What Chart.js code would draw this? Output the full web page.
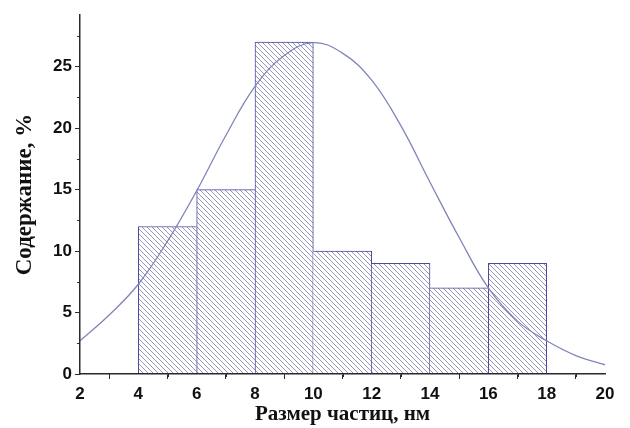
<!DOCTYPE html>
<html>
<head>
<meta charset="utf-8">
<script src="https://cdn.jsdelivr.net/npm/chart.js@4/dist/chart.umd.min.js"></script>
<style>
  html, body { margin: 0; padding: 0; background: #ffffff; }
  #wrap { width: 630px; height: 428px; position: relative; }
</style>
</head>
<body>
<div id="wrap"><canvas id="chart"></canvas></div>
<script>
// Histogram bins: centre of each 2 nm bin and its share, %
const binCentres = [5, 7, 9, 11, 13, 15, 17];
const binShares = [12, 15, 27, 10, 9, 7, 9];

// Fitted distribution curve, sampled at whole nanometres
const curveX = [2, 3, 4, 5, 6, 7, 8, 9, 10, 11, 12, 13, 14, 15, 16, 17, 18, 19, 20];
const curveY = [2.7, 4.8, 7.3, 10.8, 14.9, 19.4, 23.4, 25.9, 26.95, 26.1, 23.9, 20.2, 15.6, 11.1, 7.0, 4.3, 2.7, 1.5, 0.75];

// Axis ranges and minor tick positions
const xRange = [2, 20];
const yRange = [0, 29.2];
const xMinorTicks = [3, 5, 7, 9, 11, 13, 15, 17, 19];
const yMinorTicks = [2.5, 7.5, 12.5, 17.5, 22.5, 27.5];

const AXIS = '#2a2a2a';
const BAR_EDGE = '#4a4aa0';
const HATCH = '#9696bb';
const CURVE = '#8085bb';

// Diagonal "\\" hatching tile
function hatchPattern() {
  const s = 5;
  const c = document.createElement('canvas');
  c.width = s; c.height = s;
  const g = c.getContext('2d');
  g.fillStyle = '#ffffff';
  g.fillRect(0, 0, s, s);
  g.strokeStyle = HATCH;
  g.lineWidth = 1;
  g.beginPath();
  g.moveTo(-1, -1); g.lineTo(s + 1, s + 1);
  g.moveTo(-1, s - 1); g.lineTo(1, s + 1);
  g.moveTo(s - 1, -1); g.lineTo(s + 1, 1);
  g.stroke();
  return g.createPattern(c, 'repeat');
}

// Each shared edge is drawn once, by the taller neighbour
function edgeWidths(ctx) {
  const i = ctx.dataIndex;
  const v = binShares[i];
  const prev = i > 0 ? binShares[i - 1] : -1;
  const next = i < binShares.length - 1 ? binShares[i + 1] : -1;
  return {
    top: 1,
    bottom: 0,
    left: (prev <= v) ? 1 : 0,
    right: (next < v) ? 1 : 0
  };
}

const minorTicks = {
  id: 'minorTicks',
  afterDraw(chart) {
    const g = chart.ctx;
    const xs = chart.scales.x, ys = chart.scales.y;
    g.save();
    g.strokeStyle = AXIS;
    g.lineWidth = 1;
    g.beginPath();
    xMinorTicks.forEach(v => {
      const px = Math.round(xs.getPixelForValue(v)) + 0.5;
      g.moveTo(px, ys.bottom);
      g.lineTo(px, ys.bottom + 3);
    });
    yMinorTicks.forEach(v => {
      const py = Math.round(ys.getPixelForValue(v)) + 0.5;
      g.moveTo(xs.left - 3, py);
      g.lineTo(xs.left, py);
    });
    g.stroke();
    g.restore();
  }
};

const tickFont = { family: 'Liberation Sans, Arial, sans-serif', size: 17, weight: 'bold' };
const xTitleFont = { family: 'Liberation Serif, Times New Roman, serif', size: 21, weight: 'bold' };
const yTitleFont = { family: 'Liberation Serif, Times New Roman, serif', size: 23, weight: 'bold' };

new Chart(document.getElementById('chart'), {
  type: 'bar',
  data: {
    datasets: [
      {
        type: 'line',
        data: curveX.map((x, i) => ({ x: x, y: curveY[i] })),
        borderColor: CURVE,
        borderWidth: 1.3,
        pointRadius: 0,
        tension: 0.4,
        fill: false,
        order: 0
      },
      {
        type: 'bar',
        data: binCentres.map((x, i) => ({ x: x, y: binShares[i] })),
        backgroundColor: hatchPattern(),
        borderColor: BAR_EDGE,
        borderWidth: edgeWidths,
        borderSkipped: false,
        barPercentage: 1,
        categoryPercentage: 1,
        grouped: false,
        order: 1
      }
    ]
  },
  options: {
    responsive: true,
    maintainAspectRatio: false,
    animation: false,
    layout: { padding: { top: 15, right: 25, bottom: 0, left: 0 } },
    plugins: {
      legend: { display: false },
      tooltip: { enabled: false }
    },
    scales: {
      x: {
        type: 'linear',
        min: xRange[0],
        max: xRange[1],
        offset: false,
        grid: { drawOnChartArea: false, drawTicks: true, tickLength: 5, tickColor: AXIS, tickWidth: 1 },
        border: { display: true, color: AXIS, width: 1.5, z: 2 },
        ticks: { stepSize: 2, color: '#111', font: tickFont, padding: 5, maxRotation: 0, includeBounds: false },
        title: { display: true, text: 'Размер частиц, нм', color: '#111', font: xTitleFont, padding: { top: 0, bottom: 1 } },
        afterFit(s) { s.height = 54; }
      },
      y: {
        min: yRange[0],
        max: yRange[1],
        grid: { drawOnChartArea: false, drawTicks: true, tickLength: 5, tickColor: AXIS, tickWidth: 1 },
        border: { display: true, color: AXIS, width: 1.5, z: 2 },
        ticks: { stepSize: 5, color: '#111', font: tickFont, padding: 3, includeBounds: false },
        title: { display: true, text: 'Содержание, %', color: '#111', font: yTitleFont, padding: { top: 11, bottom: 0 } },
        afterFit(s) { s.width = 80; }
      }
    }
  },
  plugins: [minorTicks]
});
</script>
</body>
</html>
